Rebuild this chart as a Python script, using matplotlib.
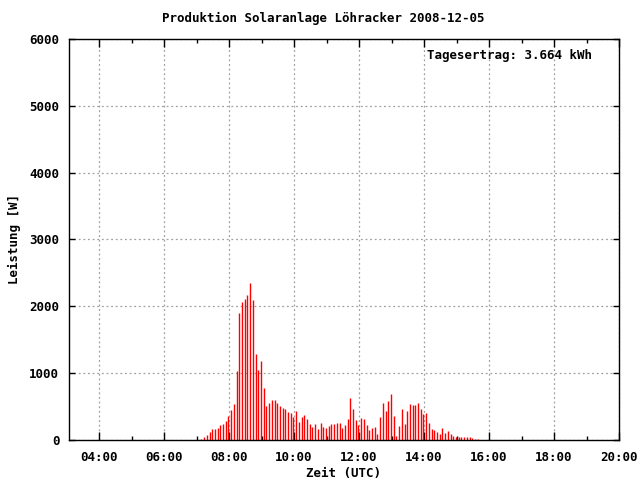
import matplotlib
matplotlib.use("Agg")
from matplotlib import pyplot as plt
from matplotlib.ticker import MultipleLocator, FuncFormatter

# 5-minute samples starting 07:09 UTC
start_hour = 7 + 9 / 60.0
step_hours = 5 / 60.0
leistung = [
    15, 45, 75, 120, 165, 165, 180, 225, 240, 285, 360, 450, 540, 1035, 1905,
    2070, 2115, 2175, 2355, 2100,
    1290, 1050, 1185, 780, 510, 555, 600, 600, 555, 510, 480, 465, 420, 405,
    345, 435, 270, 345, 375, 315, 240,
    195, 240, 165, 255, 195, 180, 210, 240, 240, 255, 255, 180, 225, 315, 630,
    465, 300, 225, 330, 315,
    225, 150, 180, 195, 90, 345, 555, 435, 585, 690, 360, 60, 210, 465, 240,
    435, 540, 525, 525, 555, 465,
    390, 405, 255, 165, 150, 120, 90, 180, 105, 135, 90, 60, 45, 45, 45, 45,
    45, 45, 30, 15, 15,
]
zeit = [start_hour + i * step_hours for i in range(len(leistung))]

titel = "Produktion Solaranlage Löhracker 2008-12-05"
ertrag = "Tagesertrag: 3.664 kWh"

plt.rcParams['font.family'] = ['DejaVu Sans Mono']
plt.rcParams['font.weight'] = 'bold'
plt.rcParams['axes.labelweight'] = 'bold'
plt.rcParams['font.size'] = 9

fig = plt.figure(figsize=(6.4, 4.8), dpi=100)
ax = fig.add_axes([69 / 640, 1 - 440 / 480, 550 / 640, 401 / 480])

ax.vlines(zeit, 0, leistung, colors='#ff0000', linewidth=1.0)

ax.set_xlim(4 - 30 / 32.5, 20)
ax.set_ylim(0, 6000)
ax.xaxis.set_major_locator(MultipleLocator(2))
ax.xaxis.set_minor_locator(MultipleLocator(1))
ax.xaxis.set_major_formatter(FuncFormatter(lambda v, p: "%02d:00" % int(round(v))))
ax.yaxis.set_major_locator(MultipleLocator(1000))

ax.tick_params(axis='both', which='both', direction='in', top=True, right=True,
               width=1, color='black')
ax.tick_params(axis='x', which='major', length=6, pad=8)
ax.tick_params(axis='x', which='minor', length=3)
ax.tick_params(axis='y', which='major', length=4, pad=7)

ax.grid(True, which='major', color='#a0a0a0', linestyle=(0, (1.5, 2.2)), linewidth=0.9)
ax.set_axisbelow(True)
for s in ax.spines.values():
    s.set_linewidth(1)
    s.set_color('black')

ax.set_xlabel("Zeit (UTC)", labelpad=2)
ax.set_ylabel("Leistung [W]", labelpad=6)
fig.text(0.505, 1 - 18 / 480, titel, ha='center', va='center')
ax.text((510 - 69) / 550, (440 - 56) / 401, ertrag, transform=ax.transAxes,
        ha='center', va='center')

fig.savefig("out.png", dpi=100)
